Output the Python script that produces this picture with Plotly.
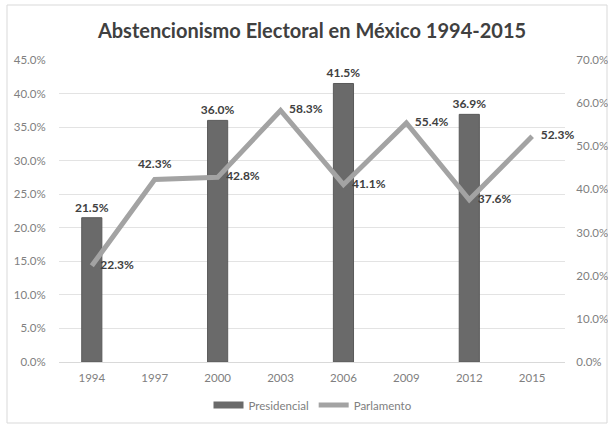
import plotly.graph_objects as go

years = ["1994", "1997", "2000", "2003", "2006", "2009", "2012", "2015"]
pres_years = ["1994", "2000", "2006", "2012"]
presidencial = [21.5, 36.0, 41.5, 36.9]
parlamento = [22.3, 42.3, 42.8, 58.3, 41.1, 55.4, 37.6, 52.3]
parl_text_pos = ["middle right", "top center", "middle right", "middle right",
                 "middle right", "middle right", "middle right", "middle right"]
left_ticks = [0, 5, 10, 15, 20, 25, 30, 35, 40, 45]
right_ticks = [0, 10, 20, 30, 40, 50, 60, 70]

FONT = "Lato"
LBL = dict(family=FONT, size=12, color="#404040")
TICK = dict(family=FONT, size=11.5, color="#808080")
BAR_COLOR = "#6a6a6a"
LINE_COLOR = "#a3a3a3"

fig = go.Figure()
fig.add_trace(go.Bar(
    x=pres_years, y=presidencial, name="Presidencial", showlegend=False,
    marker=dict(color=BAR_COLOR, line=dict(color="#5a5a5a", width=1)),
    width=0.32,
    text=[f"<b>{v:.1f}%</b>" for v in presidencial],
    textposition="outside", constraintext="none",
    textfont=LBL, cliponaxis=False,
))
# legend-only entry with a wide rectangle swatch like the reference
fig.add_trace(go.Scatter(
    x=[None], y=[None], name="Presidencial", mode="lines",
    line=dict(color=BAR_COLOR, width=7), legendrank=1,
))
fig.add_trace(go.Scatter(
    x=years, y=parlamento, name="Parlamento", yaxis="y2",
    mode="lines+markers+text", legendrank=2,
    line=dict(color=LINE_COLOR, width=5),
    marker=dict(size=12, color="rgba(0,0,0,0)"),
    text=[f"<b>{v:.1f}%</b>" for v in parlamento],
    textposition=parl_text_pos, textfont=LBL, cliponaxis=False,
))

L, R, T, B = 59, 43, 60, 62
W, H = 608, 424
pw, ph = W - L - R, H - T - B

def px_x(p):
    return (p - L) / pw

def px_y(p):
    return (H - B - p) / ph

fig.update_layout(
    width=W, height=H,
    margin=dict(l=L, r=R, t=T, b=B, autoexpand=False),
    paper_bgcolor="white", plot_bgcolor="white",
    title=dict(text="<b>Abstencionismo Electoral en México 1994-2015</b>",
               xref="paper", x=0.5, xanchor="center", y=1 - 31 / H, yanchor="middle",
               font=dict(family=FONT, size=20, color="#404040")),
    font=dict(family=FONT, size=11, color="#808080"),
    showlegend=True,
    legend=dict(orientation="h", x=px_x(313), xanchor="center",
                y=px_y(405), yanchor="middle",
                font=dict(family=FONT, size=11.5, color="#808080"),
                itemwidth=30, tracegroupgap=0),
    bargap=0.5,
    xaxis=dict(type="category", categoryorder="array", categoryarray=years,
               showgrid=False, showline=True, linecolor="#d9d9d9",
               ticks="outside", ticklen=5, tickcolor="rgba(0,0,0,0)",
               tickfont=TICK, automargin=False),
    yaxis=dict(range=[0, 45], tickvals=left_ticks,
               ticktext=[f"{v:.1f}%" for v in left_ticks],
               showgrid=True, gridcolor="#e3e3e3", gridwidth=1,
               zeroline=False, ticks="outside", ticklen=10, tickcolor="rgba(0,0,0,0)",
               tickfont=TICK, automargin=False),
    yaxis2=dict(range=[0, 70], tickvals=right_ticks,
                ticktext=[f"{v:.1f}%" for v in right_ticks],
                overlaying="y", side="right", showgrid=False, zeroline=False,
                ticks="outside", ticklen=8, tickcolor="rgba(0,0,0,0)",
                tickfont=TICK, automargin=False),
    shapes=[dict(type="rect", xref="paper", yref="paper",
                 x0=px_x(7), x1=px_x(607), y0=px_y(423), y1=px_y(5),
                 line=dict(color="#d9d9d9", width=1), layer="below")],
)

fig.write_html("out.html")
